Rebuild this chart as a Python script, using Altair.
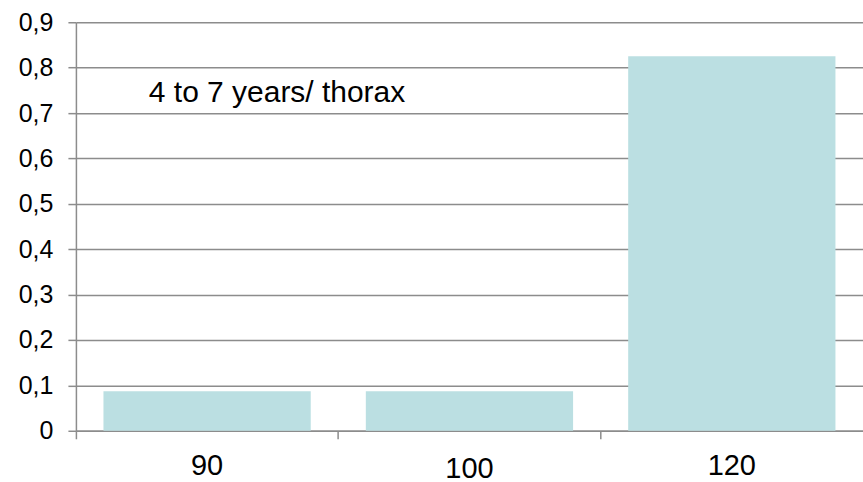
import altair as alt
import pandas as pd

# Dose levels on the x axis and the measured values for each
doses = ["90", "100", "120"]
values = [0.087, 0.087, 0.825]
y_ticks = [0, 0.1, 0.2, 0.3, 0.4, 0.5, 0.6, 0.7, 0.8, 0.9]
note = "4 to 7 years/ thorax"

df = pd.DataFrame({"dose": doses, "value": values})

GREY = "#8c8c8c"
FONT = "Liberation Sans"

# Bands fill the whole width so the ticks fall on the category boundaries;
# the bars take 79% of each band, centred.
x_enc = alt.X(
    "dose:N",
    sort=doses,
    title=None,
    scale=alt.Scale(paddingInner=0, paddingOuter=0),
    axis=alt.Axis(
        bandPosition=0,
        labelAngle=0,
        labelFont=FONT,
        labelFontSize=29,
        labelColor="#000000",
        labelPadding=alt.expr("datum.label == '100' ? 16 : 13"),
        domainColor=GREY,
        domainWidth=1.5,
        tickColor=GREY,
        tickWidth=1.5,
        tickSize=8,
        grid=False,
    ),
)

y_enc = alt.Y(
    "value:Q",
    title=None,
    scale=alt.Scale(domain=[0, 0.9], nice=False),
    axis=alt.Axis(
        values=y_ticks,
        labelExpr="replace(format(datum.value, '.1~f'), '.', ',')",
        labelFont=FONT,
        labelFontSize=25,
        labelColor="#000000",
        labelPadding=15,
        domainColor=GREY,
        domainWidth=1.5,
        tickColor=GREY,
        tickWidth=1.5,
        tickSize=8,
        grid=True,
        gridColor=GREY,
        gridWidth=1.5,
    ),
)

bars = alt.Chart(df).mark_bar(
    color="#bbdfe2", width=alt.RelativeBandSize(0.79)
).encode(x=x_enc, y=y_enc)

label = alt.Chart(pd.DataFrame({"t": [note]})).mark_text(
    align="left",
    baseline="alphabetic",
    font=FONT,
    fontSize=30,
    color="#000000",
).encode(
    x=alt.value(73),
    y=alt.datum(0.725),
    text="t:N",
)

chart = (
    alt.layer(bars, label)
    .properties(
        width=788,
        height=409,
        autosize=alt.AutoSizeParams(type="none"),
        padding={"left": 76, "top": 22, "right": 0, "bottom": 51},
        background="#ffffff",
    )
    .configure_view(stroke=None)
)

chart.save("out.html", embed_options={"renderer": "svg", "actions": False})
